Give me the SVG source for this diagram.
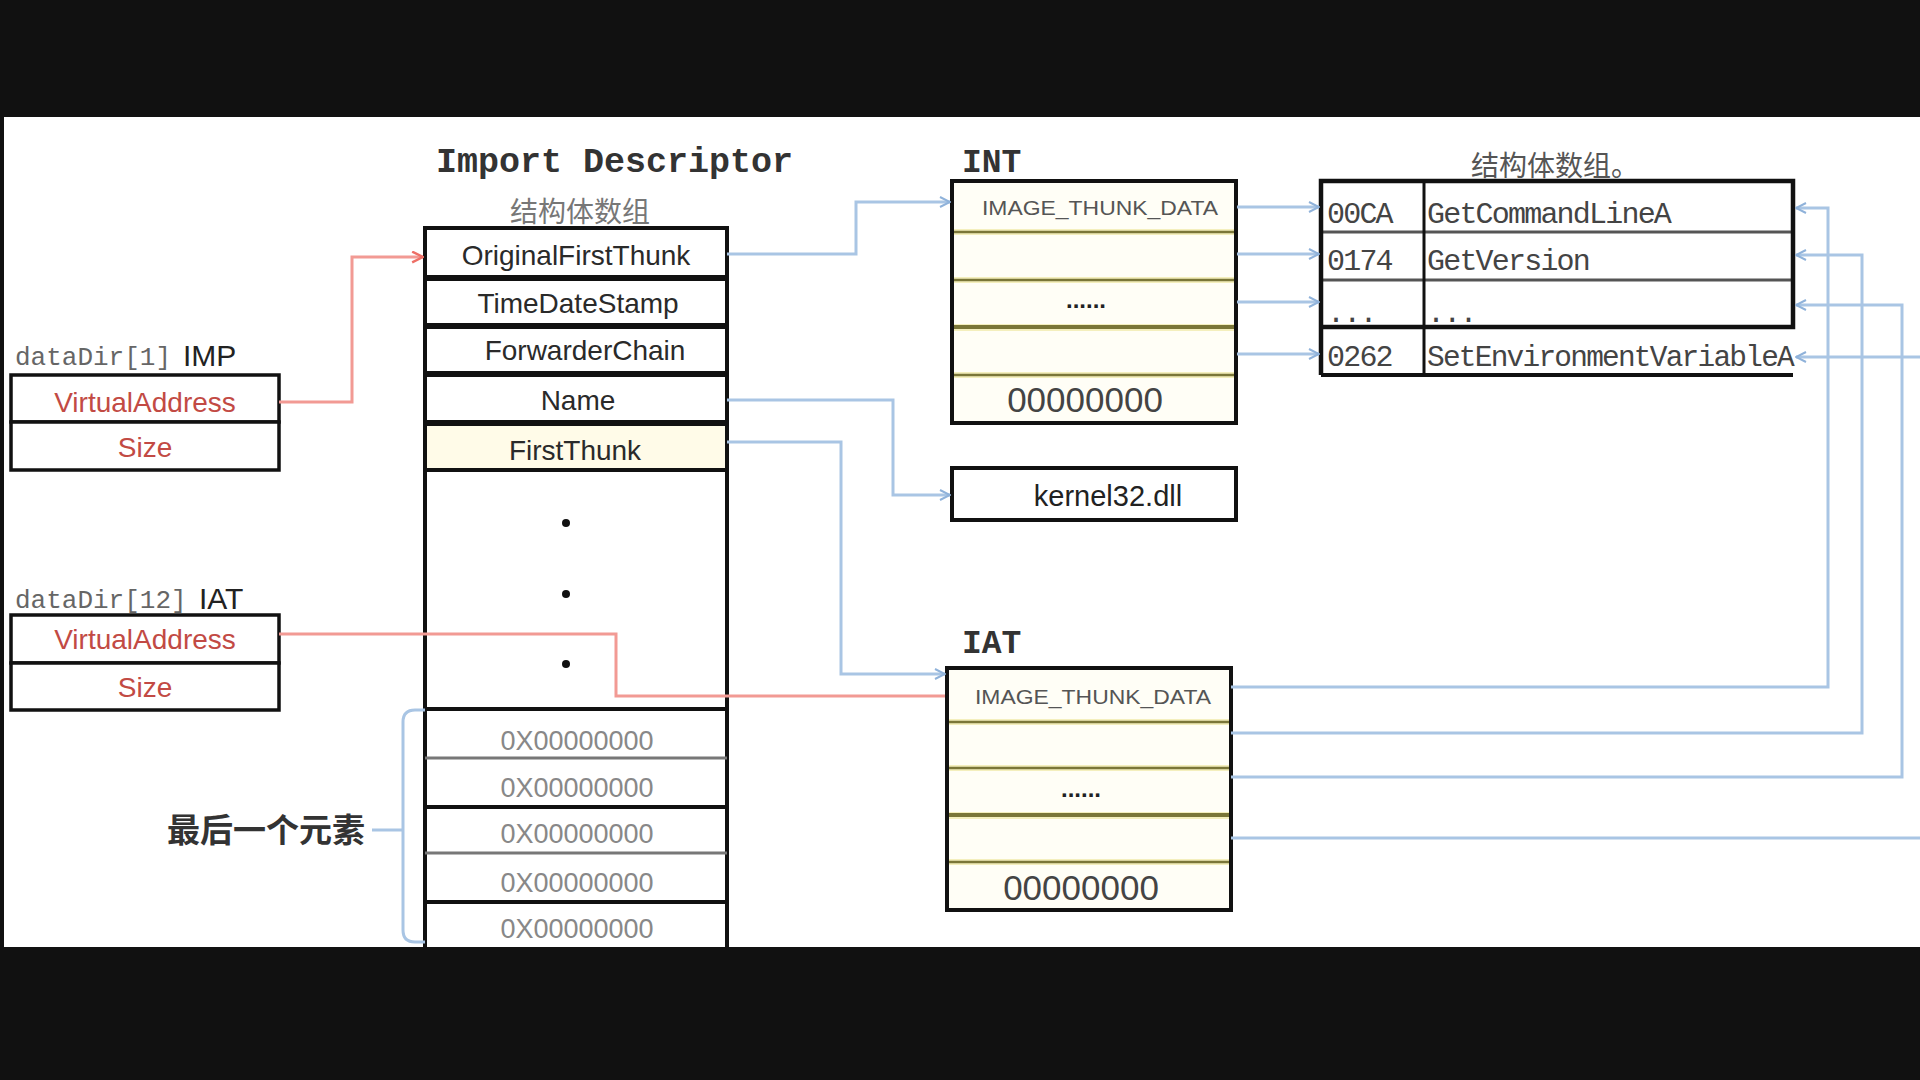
<svg xmlns="http://www.w3.org/2000/svg" width="1920" height="1080" viewBox="0 0 1920 1080">
<defs>
<style>
.box{fill:#fff;stroke:#111;stroke-width:4}
.sans{font-family:"Liberation Sans","Noto Sans",sans-serif}
.mono{font-family:"Liberation Mono","DejaVu Sans Mono",monospace}
.cjk{font-family:"Noto Sans CJK SC","Noto Sans",sans-serif}
.fld{font-family:"Liberation Sans","Noto Sans",sans-serif;font-size:28px;fill:#2a2a2a;text-anchor:middle}
.red{font-family:"Liberation Sans",sans-serif;font-size:28px;fill:#c24a44;text-anchor:middle}
.zero{font-family:"Liberation Sans",sans-serif;font-size:27px;fill:#888;text-anchor:middle}
.itd{font-family:"Liberation Sans",sans-serif;font-size:20px;fill:#555;text-anchor:middle}
.big0{font-family:"Liberation Sans",sans-serif;font-size:35px;fill:#444;text-anchor:middle}
.fn{font-family:"Liberation Mono",monospace;font-size:30px;letter-spacing:-1.8px;fill:#444}
.blue{fill:none;stroke:#a9c5e4;stroke-width:3}
.redl{fill:none;stroke:#f29a94;stroke-width:3}
.sep{stroke:#7a7638;stroke-width:2.5}
.band{fill:#f4efbd}
.thk{stroke:#111;stroke-width:4}
.thn{stroke:#777;stroke-width:3}
</style>
<marker id="ab" viewBox="0 0 12 12" refX="11" refY="6" markerWidth="12" markerHeight="12" markerUnits="userSpaceOnUse" orient="auto"><path d="M1,1 L11,6 L1,11" fill="none" stroke="#8fb2da" stroke-width="2"/></marker>
<marker id="ar" viewBox="0 0 12 12" refX="11" refY="6" markerWidth="13" markerHeight="13" markerUnits="userSpaceOnUse" orient="auto"><path d="M1,1 L11,6 L1,11" fill="none" stroke="#ee6f66" stroke-width="2.2"/></marker>
</defs>

<rect x="0" y="0" width="1920" height="1080" fill="#fff"/>

<g id="title-import">
<text class="mono" x="436" y="172" font-size="35" font-weight="bold" fill="#333">Import Descriptor</text>
<text class="cjk" x="580" y="222" font-size="28" fill="#777" text-anchor="middle">结构体数组</text>
</g>

<g id="import-descriptor">
<rect class="box" x="425" y="228" width="302" height="49"/>
<rect class="box" x="425" y="279" width="302" height="46"/>
<rect class="box" x="425" y="327" width="302" height="46"/>
<rect class="box" x="425" y="375" width="302" height="47"/>
<rect class="box" x="425" y="424" width="302" height="46" style="fill:#fffbe8"/>
<rect class="box" x="425" y="470" width="302" height="500"/>
<text class="fld" x="576" y="265">OriginalFirstThunk</text>
<text class="fld" x="578" y="313">TimeDateStamp</text>
<text class="fld" x="585" y="360">ForwarderChain</text>
<text class="fld" x="578" y="410">Name</text>
<text class="fld" x="575" y="460">FirstThunk</text>
<circle cx="566" cy="523" r="4" fill="#111"/>
<circle cx="566" cy="594" r="4" fill="#111"/>
<circle cx="566" cy="664" r="4" fill="#111"/>
<line class="thk" x1="425" y1="709" x2="727" y2="709"/>
<line class="thn" x1="425" y1="758" x2="727" y2="758"/>
<line class="thk" x1="425" y1="807" x2="727" y2="807"/>
<line class="thn" x1="425" y1="853" x2="727" y2="853"/>
<line class="thk" x1="425" y1="902" x2="727" y2="902"/>
<text class="zero" x="577" y="750">0X00000000</text>
<text class="zero" x="577" y="797">0X00000000</text>
<text class="zero" x="577" y="843">0X00000000</text>
<text class="zero" x="577" y="892">0X00000000</text>
<text class="zero" x="577" y="938">0X00000000</text>
</g>

<g id="last-element-label">
<text class="cjk" x="365" y="842" font-size="33" font-weight="bold" fill="#333" text-anchor="end">最后一个元素</text>
</g>

<g id="datadir-imp">
<text class="mono" x="15" y="365" font-size="26" fill="#666">dataDir[1]</text>
<text class="sans" x="183" y="366" font-size="30" fill="#222">IMP</text>
<rect class="box" x="11" y="375" width="268" height="47" style="stroke-width:3.5"/>
<rect class="box" x="11" y="422" width="268" height="48" style="stroke-width:3.5"/>
<text class="red" x="145" y="412">VirtualAddress</text>
<text class="red" x="145" y="457">Size</text>
</g>

<g id="datadir-iat">
<text class="mono" x="15" y="608" font-size="26" fill="#666">dataDir[12]</text>
<text class="sans" x="199" y="609" font-size="30" fill="#222">IAT</text>
<rect class="box" x="11" y="615" width="268" height="48" style="stroke-width:3.5"/>
<rect class="box" x="11" y="663" width="268" height="47" style="stroke-width:3.5"/>
<text class="red" x="145" y="649">VirtualAddress</text>
<text class="red" x="145" y="697">Size</text>
</g>

<g id="int">
<text class="mono" x="962" y="172" font-size="33" font-weight="bold" fill="#333">INT</text>
<rect x="952" y="181" width="284" height="242" fill="#fffef6"/>
<rect class="band" x="954" y="229" width="280" height="6"/>
<rect class="band" x="954" y="277" width="280" height="6"/>
<rect class="band" x="954" y="324" width="280" height="7"/>
<rect class="band" x="954" y="372" width="280" height="6"/>
<line class="sep" x1="952" y1="232" x2="1236" y2="232"/>
<line class="sep" x1="952" y1="280" x2="1236" y2="280"/>
<line class="sep" x1="952" y1="327" x2="1236" y2="327" style="stroke-width:4"/>
<line class="sep" x1="952" y1="375" x2="1236" y2="375"/>
<rect x="952" y="181" width="284" height="242" fill="none" stroke="#111" stroke-width="4"/>
<text class="itd" x="1100" y="215" textLength="236" lengthAdjust="spacingAndGlyphs">IMAGE_THUNK_DATA</text>
<text class="sans" x="1086" y="308" font-size="24" font-weight="bold" fill="#222" text-anchor="middle">......</text>
<text class="big0" x="1085" y="412">00000000</text>
</g>

<g id="kernel32">
<rect class="box" x="952" y="468" width="284" height="52"/>
<text class="sans" x="1108" y="506" font-size="29" fill="#222" text-anchor="middle">kernel32.dll</text>
</g>

<g id="iat">
<text class="mono" x="962" y="653" font-size="33" font-weight="bold" fill="#333">IAT</text>
<rect x="947" y="668" width="284" height="242" fill="#fffef6"/>
<rect class="band" x="949" y="719" width="280" height="6"/>
<rect class="band" x="949" y="765" width="280" height="6"/>
<rect class="band" x="949" y="812" width="280" height="7"/>
<rect class="band" x="949" y="859" width="280" height="6"/>
<line class="sep" x1="947" y1="722" x2="1231" y2="722"/>
<line class="sep" x1="947" y1="768" x2="1231" y2="768"/>
<line class="sep" x1="947" y1="815" x2="1231" y2="815" style="stroke-width:4"/>
<line class="sep" x1="947" y1="862" x2="1231" y2="862"/>
<rect x="947" y="668" width="284" height="242" fill="none" stroke="#111" stroke-width="4"/>
<text class="itd" x="1093" y="704" textLength="236" lengthAdjust="spacingAndGlyphs">IMAGE_THUNK_DATA</text>
<text class="sans" x="1081" y="797" font-size="24" font-weight="bold" fill="#222" text-anchor="middle">......</text>
<text class="big0" x="1081" y="900">00000000</text>
</g>

<g id="struct-array">
<text class="cjk" x="1555" y="176" font-size="28" fill="#555" text-anchor="middle">结构体数组。</text>
<rect x="1321" y="181" width="472" height="194" fill="#fff"/>
<line class="thn" x1="1321" y1="232" x2="1793" y2="232" style="stroke:#555"/>
<line class="thn" x1="1321" y1="280" x2="1793" y2="280" style="stroke:#555"/>
<line class="thk" x1="1321" y1="375" x2="1793" y2="375"/>
<line class="thk" x1="1424" y1="181" x2="1424" y2="375" style="stroke-width:3"/>
<path d="M1321,375 V181 H1793 V327 H1321" fill="none" stroke="#111" stroke-width="4.5"/>
<text class="fn" x="1327" y="223">00CA</text>
<text class="fn" x="1427" y="223">GetCommandLineA</text>
<text class="fn" x="1327" y="270">0174</text>
<text class="fn" x="1427" y="270">GetVersion</text>
<text class="fn" x="1327" y="322" font-size="16" letter-spacing="1">...</text>
<text class="fn" x="1427" y="322" font-size="16" letter-spacing="1">...</text>
<text class="fn" x="1327" y="366">0262</text>
<text class="fn" x="1427" y="366" textLength="366" lengthAdjust="spacingAndGlyphs">SetEnvironmentVariableA</text>
</g>

<g id="connectors">
<path class="redl" d="M279,402 H352 V257 H423" marker-end="url(#ar)"/>
<path class="redl" d="M279,634 H616 V696 H945"/>
<path class="blue" d="M727,254 H856 V202 H950" marker-end="url(#ab)"/>
<path class="blue" d="M727,400 H893 V495 H950" marker-end="url(#ab)"/>
<path class="blue" d="M727,442 H841 V674 H945" marker-end="url(#ab)"/>
<path class="blue" d="M1237,207 H1319" marker-end="url(#ab)"/>
<path class="blue" d="M1237,254 H1319" marker-end="url(#ab)"/>
<path class="blue" d="M1237,302 H1319" marker-end="url(#ab)"/>
<path class="blue" d="M1237,354 H1319" marker-end="url(#ab)"/>
<path class="blue" d="M1231,687 H1828 V208 H1796" marker-end="url(#ab)"/>
<path class="blue" d="M1231,733 H1862 V255 H1796" marker-end="url(#ab)"/>
<path class="blue" d="M1231,777 H1902 V305 H1796" marker-end="url(#ab)"/>
<path class="blue" d="M1231,838 H1940 V357 H1796" marker-end="url(#ab)"/>
<path class="blue" d="M372,830 H403 M425,710 H415 Q403,710 403,722 V930 Q403,942 415,942 H425"/>
</g>

<rect x="0" y="0" width="1920" height="117" fill="#111"/>
<rect x="0" y="947" width="1920" height="133" fill="#111"/>
<rect x="0" y="0" width="4" height="1080" fill="#111"/>
</svg>
